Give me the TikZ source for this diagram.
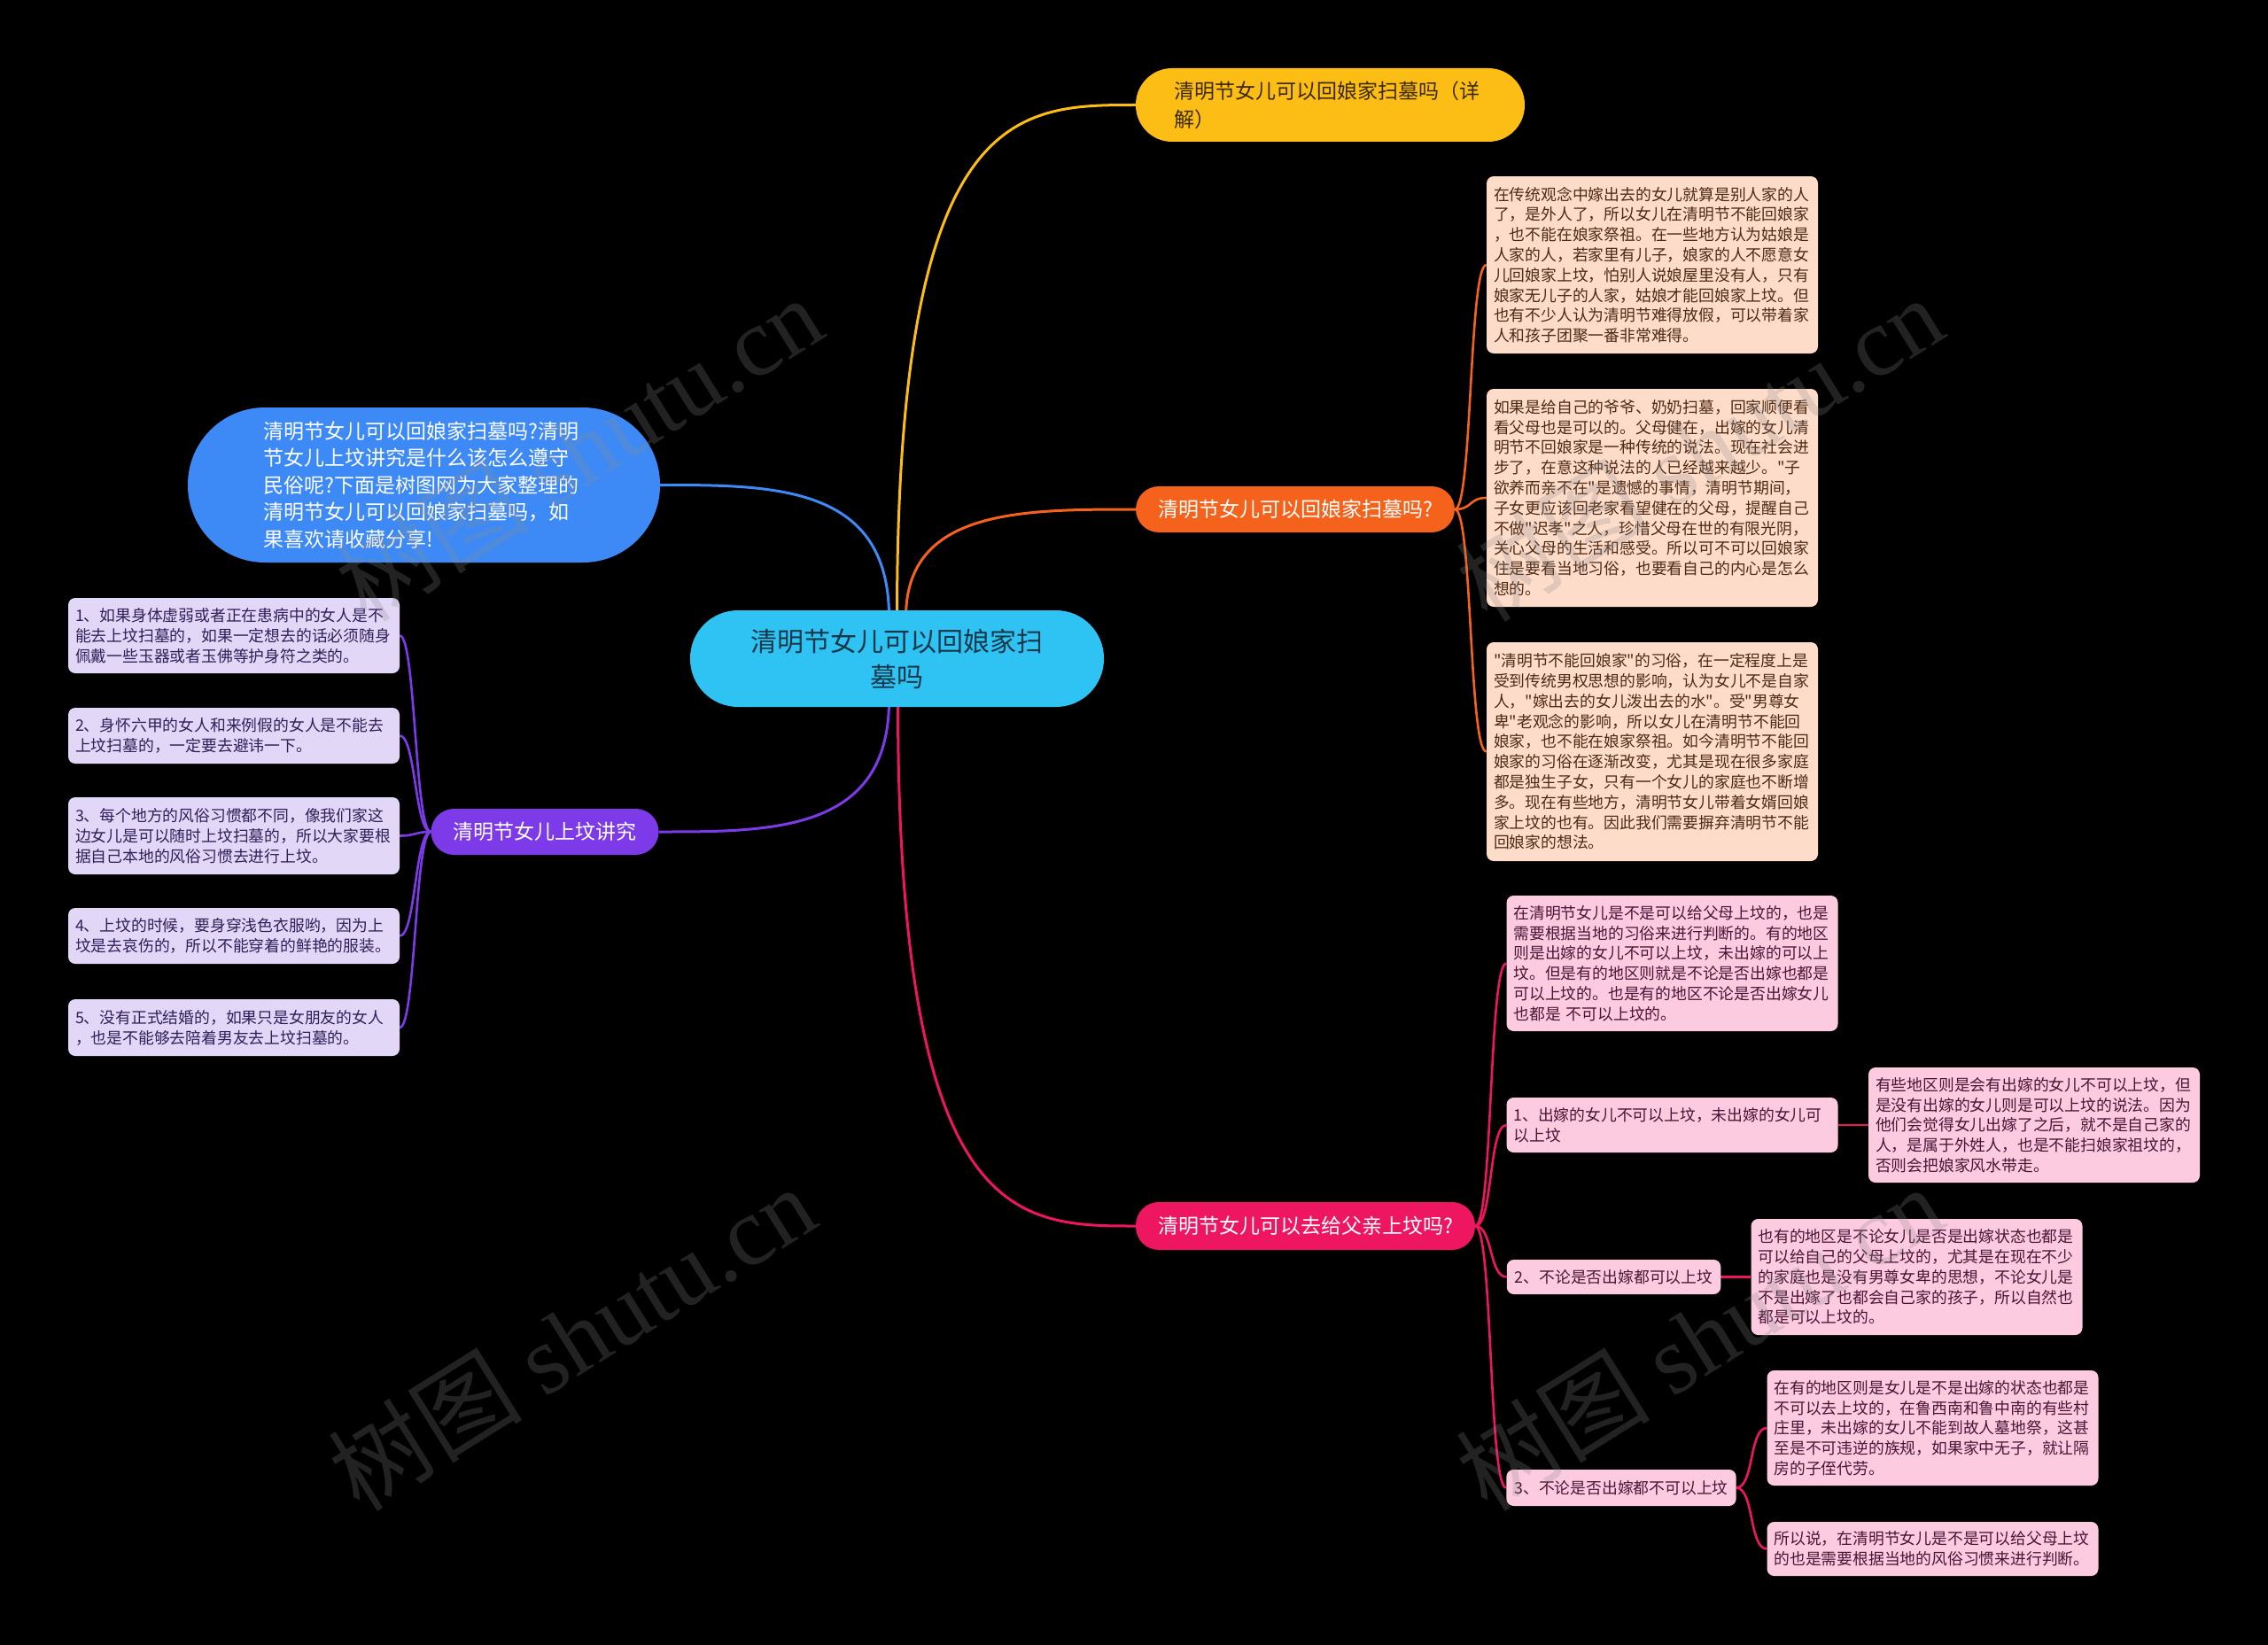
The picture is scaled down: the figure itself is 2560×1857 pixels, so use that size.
\documentclass[tikz,border=0pt]{standalone}
\usepackage{fontspec}
\setmainfont{Noto Sans CJK SC}[Ligatures=TeXOff]
\newfontfamily\wmlatin{Liberation Serif}
\usetikzlibrary{calc}
\pgfdeclarelayer{bg}
\pgfdeclarelayer{edges}
\pgfdeclarelayer{fg}
\pgfsetlayers{bg,edges,main,fg}
\definecolor{cCenter}{HTML}{2EC3F2}
\definecolor{cCenterT}{HTML}{17384A}
\definecolor{cYellow}{HTML}{FCBD14}
\definecolor{cYellowT}{HTML}{3B2A05}
\definecolor{cOrange}{HTML}{F5621C}
\definecolor{cPeach}{HTML}{FDDCCA}
\definecolor{cPeachT}{HTML}{4E2A14}
\definecolor{cCrimson}{HTML}{EE1561}
\definecolor{cPink}{HTML}{FCCBE0}
\definecolor{cPinkT}{HTML}{4B1436}
\definecolor{cPurple}{HTML}{7C3AE8}
\definecolor{cLav}{HTML}{E3D7F8}
\definecolor{cLavT}{HTML}{2E2058}
\definecolor{cBlue}{HTML}{3D8AF7}
\definecolor{cWm}{HTML}{8A8A8A}
\newcommand\leaffont{\fontsize{17.8}{22.8}\selectfont}
\newcommand\branchfont{\fontsize{23}{32}\selectfont}
\begin{document}
\begin{tikzpicture}[x=1pt,y=-1pt,
  centernode/.style={fill=cCenter, text=cCenterT, rounded corners=54pt, minimum width=467pt, minimum height=109pt, inner sep=0pt, text width=340pt, align=center, font={\fontsize{30}{40}\selectfont}},
  yellownode/.style={fill=cYellow, text=cYellowT, rounded corners=41pt, minimum width=439pt, minimum height=83pt, inner sep=0pt, text width=352pt, align=left, font=\branchfont},
  bluenode/.style={fill=cBlue, text=white, rounded corners=87pt, minimum width=533pt, minimum height=175pt, inner sep=0pt, text width=362pt, align=left, font={\fontsize{23}{30.5}\selectfont}},
  branchnode/.style={text=white, rounded corners=26pt, minimum height=52pt, inner xsep=25pt, inner ysep=0pt, font=\branchfont},
  leafnode/.style={rounded corners=8pt, inner sep=0pt, minimum width=374pt, text width=358pt, align=left, font=\leaffont},
  shortleaf/.style={rounded corners=8pt, inner xsep=9pt, inner ysep=0pt, minimum height=40pt, font=\leaffont},
  peach/.style={leafnode, fill=cPeach, text=cPeachT},
  pink/.style={leafnode, fill=cPink, text=cPinkT},
  lav/.style={leafnode, fill=cLav, text=cLavT},
  mainedge/.style={line width=3pt},
  subedge/.style={line width=2.6pt},
  wm/.style={text=cWm, opacity=0.25, font={\fontsize{110}{115}\selectfont}, inner sep=0pt}
]
\useasboundingbox (0,0) rectangle (2560,1857);
\begin{pgfonlayer}{bg}
\fill[black] (0,0) rectangle (2560,1857);
\end{pgfonlayer}

% center
\node[centernode] (c) at (1012.5,743.5) {清明节女儿可以回娘家扫\\墓吗};

% main branches
\node[yellownode] (y) at (1501.5,118.5) {清明节女儿可以回娘家扫墓吗（详\\解）};
\node[branchnode, fill=cOrange] (o) at (1462,575) {清明节女儿可以回娘家扫墓吗?};
\node[branchnode, fill=cCrimson, minimum height=54pt] (r) at (1473.5,1384) {清明节女儿可以去给父亲上坟吗?};
\node[branchnode, fill=cPurple] (p) at (615,939) {清明节女儿上坟讲究};
\node[bluenode] (b) at (478.5,547.5) {清明节女儿可以回娘家扫墓吗?清明\\节女儿上坟讲究是什么该怎么遵守\\民俗呢?下面是树图网为大家整理的\\清明节女儿可以回娘家扫墓吗，如\\果喜欢请收藏分享!};

% orange leaves
\node[peach, minimum height=200pt] (o1) at (1865,299) {在传统观念中嫁出去的女儿就算是别人家的人\\了，是外人了，所以女儿在清明节不能回娘家\\，也不能在娘家祭祖。在一些地方认为姑娘是\\人家的人，若家里有儿子，娘家的人不愿意女\\儿回娘家上坟，怕别人说娘屋里没有人，只有\\娘家无儿子的人家，姑娘才能回娘家上坟。但\\也有不少人认为清明节难得放假，可以带着家\\人和孩子团聚一番非常难得。};
\node[peach, minimum height=246pt] (o2) at (1865,562) {如果是给自己的爷爷、奶奶扫墓，回家顺便看\\看父母也是可以的。父母健在，出嫁的女儿清\\明节不回娘家是一种传统的说法。现在社会进\\步了，在意这种说法的人已经越来越少。"子\\欲养而亲不在"是遗憾的事情，清明节期间，\\子女更应该回老家看望健在的父母，提醒自己\\不做"迟孝"之人，珍惜父母在世的有限光阴，\\关心父母的生活和感受。所以可不可以回娘家\\住是要看当地习俗，也要看自己的内心是怎么\\想的。};
\node[peach, minimum height=247pt] (o3) at (1865,848.5) {"清明节不能回娘家"的习俗，在一定程度上是\\受到传统男权思想的影响，认为女儿不是自家\\人，"嫁出去的女儿泼出去的水"。受"男尊女\\卑"老观念的影响，所以女儿在清明节不能回\\娘家，也不能在娘家祭祖。如今清明节不能回\\娘家的习俗在逐渐改变，尤其是现在很多家庭\\都是独生子女，只有一个女儿的家庭也不断增\\多。现在有些地方，清明节女儿带着女婿回娘\\家上坟的也有。因此我们需要摒弃清明节不能\\回娘家的想法。};

% crimson leaves
\node[pink, minimum height=153pt] (r0) at (1887.5,1087.5) {在清明节女儿是不是可以给父母上坟的，也是\\需要根据当地的习俗来进行判断的。有的地区\\则是出嫁的女儿不可以上坟，未出嫁的可以上\\坟。但是有的地区则就是不论是否出嫁也都是\\可以上坟的。也是有的地区不论是否出嫁女儿\\也都是 不可以上坟的。};
\node[pink, minimum height=62pt] (r1) at (1887.5,1270) {1、出嫁的女儿不可以上坟，未出嫁的女儿可\\以上坟};
\node[pink, minimum height=130pt] (r1a) at (2296,1270) {有些地区则是会有出嫁的女儿不可以上坟，但\\是没有出嫁的女儿则是可以上坟的说法。因为\\他们会觉得女儿出嫁了之后，就不是自己家的\\人，是属于外姓人，也是不能扫娘家祖坟的，\\否则会把娘家风水带走。};
\node[shortleaf, fill=cPink, text=cPinkT, minimum height=39pt] (r2) at (1821.5,1441.5) {2、不论是否出嫁都可以上坟};
\node[pink, minimum height=131pt] (r2a) at (2163.5,1441.5) {也有的地区是不论女儿是否是出嫁状态也都是\\可以给自己的父母上坟的，尤其是在现在不少\\的家庭也是没有男尊女卑的思想，不论女儿是\\不是出嫁了也都会自己家的孩子，所以自然也\\都是可以上坟的。};
\node[shortleaf, fill=cPink, text=cPinkT, minimum height=41pt] (r3) at (1830,1679.5) {3、不论是否出嫁都不可以上坟};
\node[pink, minimum height=130pt] (r3a) at (2181.5,1612) {在有的地区则是女儿是不是出嫁的状态也都是\\不可以去上坟的，在鲁西南和鲁中南的有些村\\庄里，未出嫁的女儿不能到故人墓地祭，这甚\\至是不可违逆的族规，如果家中无子，就让隔\\房的子侄代劳。};
\node[pink, minimum height=61pt] (r3b) at (2181.5,1748.5) {所以说，在清明节女儿是不是可以给父母上坟\\的也是需要根据当地的风俗习惯来进行判断。};

% purple leaves
\node[lav, minimum height=85pt] (l1) at (264,717.5) {1、如果身体虚弱或者正在患病中的女人是不\\能去上坟扫墓的，如果一定想去的话必须随身\\佩戴一些玉器或者玉佛等护身符之类的。};
\node[lav, minimum height=63pt] (l2) at (264,830.5) {2、身怀六甲的女人和来例假的女人是不能去\\上坟扫墓的，一定要去避讳一下。};
\node[lav, minimum height=87pt] (l3) at (264,943.5) {3、每个地方的风俗习惯都不同，像我们家这\\边女儿是可以随时上坟扫墓的，所以大家要根\\据自己本地的风俗习惯去进行上坟。};
\node[lav, minimum height=63pt] (l4) at (264,1056.5) {4、上坟的时候，要身穿浅色衣服哟，因为上\\坟是去哀伤的，所以不能穿着的鲜艳的服装。};
\node[lav, minimum height=64pt] (l5) at (264,1160) {5、没有正式结婚的，如果只是女朋友的女人\\，也是不能够去陪着男友去上坟扫墓的。};

% start points of the main connectors (hidden behind the centre node edge)
\coordinate (sy) at ($(c.north)+(0,8)$);
\coordinate (so) at ($(c.north)+(10,8)$);
\coordinate (sb) at ($(c.north)+(-9,8)$);
\coordinate (sp) at ($(c.south)+(-9,-8)$);
\coordinate (sr) at ($(c.south)+(1,-8)$);

\begin{pgfonlayer}{edges}
% main connectors
\draw[mainedge, cYellow] (sy) .. controls (sy |- y.west) and ($(sy |- y.west)!0.5!(y.west)$) .. (y.west);
\draw[mainedge, cOrange] (so) .. controls (so |- o.west) and ($(so |- o.west)!0.5!(o.west)$) .. (o.west);
\draw[mainedge, cCrimson] (sr) .. controls (sr |- r.west) and ($(sr |- r.west)!0.5!(r.west)$) .. (r.west);
\draw[mainedge, cBlue] (sb) .. controls (sb |- b.east) and ($(sb |- b.east)!0.5!(b.east)$) .. (b.east);
\draw[mainedge, cPurple] (sp) .. controls (sp |- p.east) and ($(sp |- p.east)!0.5!(p.east)$) .. (p.east);
% orange sub
\foreach \t in {o1,o2,o3}
  \draw[subedge, cOrange] (o.east) .. controls +(20,0) and +(-20,0) .. (\t.west);
% crimson sub
\foreach \t in {r0,r1,r2,r3}
  \draw[subedge, cCrimson] (r.east) .. controls +(20,0) and +(-20,0) .. (\t.west);
\draw[subedge, cCrimson] (r1.east) -- (r1a.west);
\draw[subedge, cCrimson] (r2.east) -- (r2a.west);
\foreach \t in {r3a,r3b}
  \draw[subedge, cCrimson] (r3.east) .. controls +(20,0) and +(-20,0) .. (\t.west);
% purple sub
\foreach \t in {l1,l2,l3,l4,l5}
  \draw[subedge, cPurple] (p.west) .. controls +(-18,0) and +(18,0) .. (\t.east);
\end{pgfonlayer}

\begin{pgfonlayer}{fg}
\node[wm, rotate=32] (w1) at (653,506) {树图 {\wmlatin shutu.cn}};
\node[wm, rotate=32] (w2) at (645,1510) {树图 {\wmlatin shutu.cn}};
\node[wm, rotate=32] (w3) at (1918,506) {树图 {\wmlatin shutu.cn}};
\node[wm, rotate=32] (w4) at (1918,1510) {树图 {\wmlatin shutu.cn}};
\end{pgfonlayer}
\end{tikzpicture}
\end{document}
